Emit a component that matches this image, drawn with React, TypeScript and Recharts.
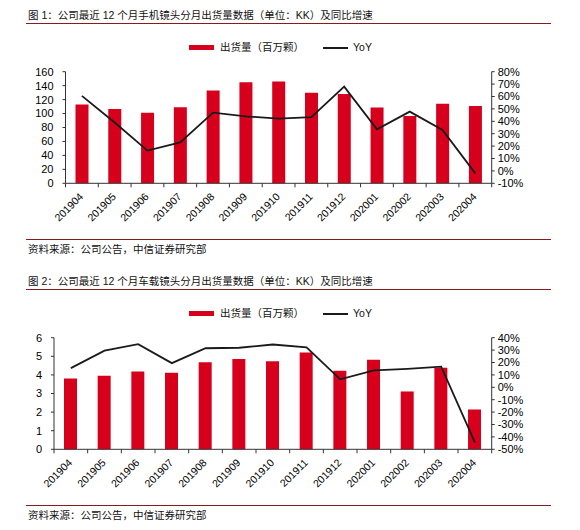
import React from "react";
import { ComposedChart, Bar, Line, XAxis, YAxis } from "recharts";

const months = [
  "201904", "201905", "201906", "201907", "201908", "201909", "201910",
  "201911", "201912", "202001", "202002", "202003", "202004",
];

// 图1 手机镜头
const phoneShipments = [113, 106.5, 101, 109, 133, 145, 146, 130, 128, 108.5, 96.5, 114, 111];
const phoneYoY = [60.5, 39, 16.4, 23, 47, 44, 42.2, 43.3, 68, 33.6, 47.8, 33, -2];
const phoneLeftTicks = [0, 20, 40, 60, 80, 100, 120, 140, 160];
const phoneRightTicks = [-10, 0, 10, 20, 30, 40, 50, 60, 70, 80];

// 图2 车载镜头
const carShipments = [3.81, 3.95, 4.18, 4.11, 4.68, 4.86, 4.74, 5.2, 4.22, 4.82, 3.11, 4.38, 2.14];
const carYoY = [15.5, 29.5, 34.8, 19.5, 31.5, 31.9, 34.5, 32.3, 6.4, 13.6, 14.8, 16.6, -44.4];
const carLeftTicks = [0, 1, 2, 3, 4, 5, 6];
const carRightTicks = [-50, -40, -30, -20, -10, 0, 10, 20, 30, 40];

const RED = "#D7001C";
const LINE = "#1A1A1A";
const AXIS = "#333";
const RULE = "#8B1A1A";
const FONT = '"Liberation Sans", Arial, "Noto Sans CJK SC", sans-serif';

const MonthTick = (props: any) => {
  const { x, y, payload } = props;
  const half = payload.offset ?? 0;
  const y0 = y - 6;
  const tx = x + 2;
  const ty = y + 8;
  return (
    <g>
      <line x1={x - half} x2={x - half} y1={y0} y2={y0 + 4} stroke={AXIS} />
      {payload.value === months[months.length - 1] && (
        <line x1={x + half} x2={x + half} y1={y0} y2={y0 + 4} stroke={AXIS} />
      )}
      <text
        x={tx}
        y={ty}
        transform={`rotate(-45 ${tx} ${ty})`}
        textAnchor="end"
        fontSize={10.5}
        fill="#000"
        fontFamily={FONT}
      >
        {payload.value}
      </text>
    </g>
  );
};

const text = (left: number, top: number, s: string) => (
  <div style={{ position: "absolute", left, top, fontSize: 10.5, lineHeight: "14px", color: "#111", whiteSpace: "nowrap" }}>
    {s}
  </div>
);

const rule = (top: number) => (
  <div style={{ position: "absolute", left: 26, top, width: 525, height: 1, background: RULE }} />
);

function Figure({ top, title, shipments, yoy, leftTicks, rightTicks, leftMargin }: any) {
  const data = months.map((m, i) => ({ month: m, shipments: shipments[i], yoy: yoy[i] }));
  return (
    <div style={{ position: "absolute", left: 0, top, width: 580, height: 265 }}>
      {text(28, 8, title)}
      {rule(23)}
      <div style={{ position: "absolute", left: 189, top: 45, width: 25, height: 5, background: RED }} />
      {text(220, 40, "出货量（百万颗）")}
      <div style={{ position: "absolute", left: 323, top: 46.5, width: 25, height: 2, background: LINE }} />
      {text(353, 40, "YoY")}
      <div style={{ position: "absolute", left: 0, top: 0 }}>
        <ComposedChart
          width={580}
          height={240}
          data={data}
          margin={{ top: 71.7, right: 38.3, bottom: 6.7, left: leftMargin }}
        >
          <XAxis
            dataKey="month"
            interval={0}
            height={50}
            tickSize={4}
            tickMargin={2}
            tickLine={false}
            axisLine={{ stroke: AXIS }}
            tick={<MonthTick />}
          />
          <YAxis
            yAxisId="left"
            width={40}
            domain={[leftTicks[0], leftTicks[leftTicks.length - 1]]}
            ticks={leftTicks}
            interval={0}
            tickSize={3}
            tickMargin={9}
            axisLine={{ stroke: AXIS }}
            tickLine={{ stroke: AXIS }}
            tick={{ fontSize: 11, fill: "#000", fontFamily: FONT }}
          />
          <YAxis
            yAxisId="right"
            orientation="right"
            width={50}
            domain={[rightTicks[0], rightTicks[rightTicks.length - 1]]}
            ticks={rightTicks}
            interval={0}
            tickSize={3}
            tickMargin={3}
            axisLine={{ stroke: AXIS }}
            tickLine={{ stroke: AXIS }}
            tickFormatter={(v) => `${v}%`}
            tick={{ fontSize: 11, fill: "#000", fontFamily: FONT }}
          />
          <Bar yAxisId="left" dataKey="shipments" fill={RED} barSize={13} isAnimationActive={false} />
          <Line
            yAxisId="right"
            type="linear"
            dataKey="yoy"
            stroke={LINE}
            strokeWidth={1.8}
            dot={false}
            isAnimationActive={false}
          />
        </ComposedChart>
      </div>
      {rule(239)}
      {text(28, 242, "资料来源：公司公告，中信证券研究部")}
    </div>
  );
}

export default function App() {
  return (
    <div
      style={{
        position: "absolute",
        left: 0,
        top: 0,
        width: 580,
        height: 530,
        background: "#fff",
        fontFamily: FONT,
      }}
    >
      <Figure
        top={0}
        title="图 1：公司最近 12 个月手机镜头分月出货量数据（单位：KK）及同比增速"
        shipments={phoneShipments}
        yoy={phoneYoY}
        leftTicks={phoneLeftTicks}
        rightTicks={phoneRightTicks}
        leftMargin={25.5}
      />
      <Figure
        top={266}
        title="图 2：公司最近 12 个月车载镜头分月出货量数据（单位：KK）及同比增速"
        shipments={carShipments}
        yoy={carYoY}
        leftTicks={carLeftTicks}
        rightTicks={carRightTicks}
        leftMargin={14}
      />
    </div>
  );
}
